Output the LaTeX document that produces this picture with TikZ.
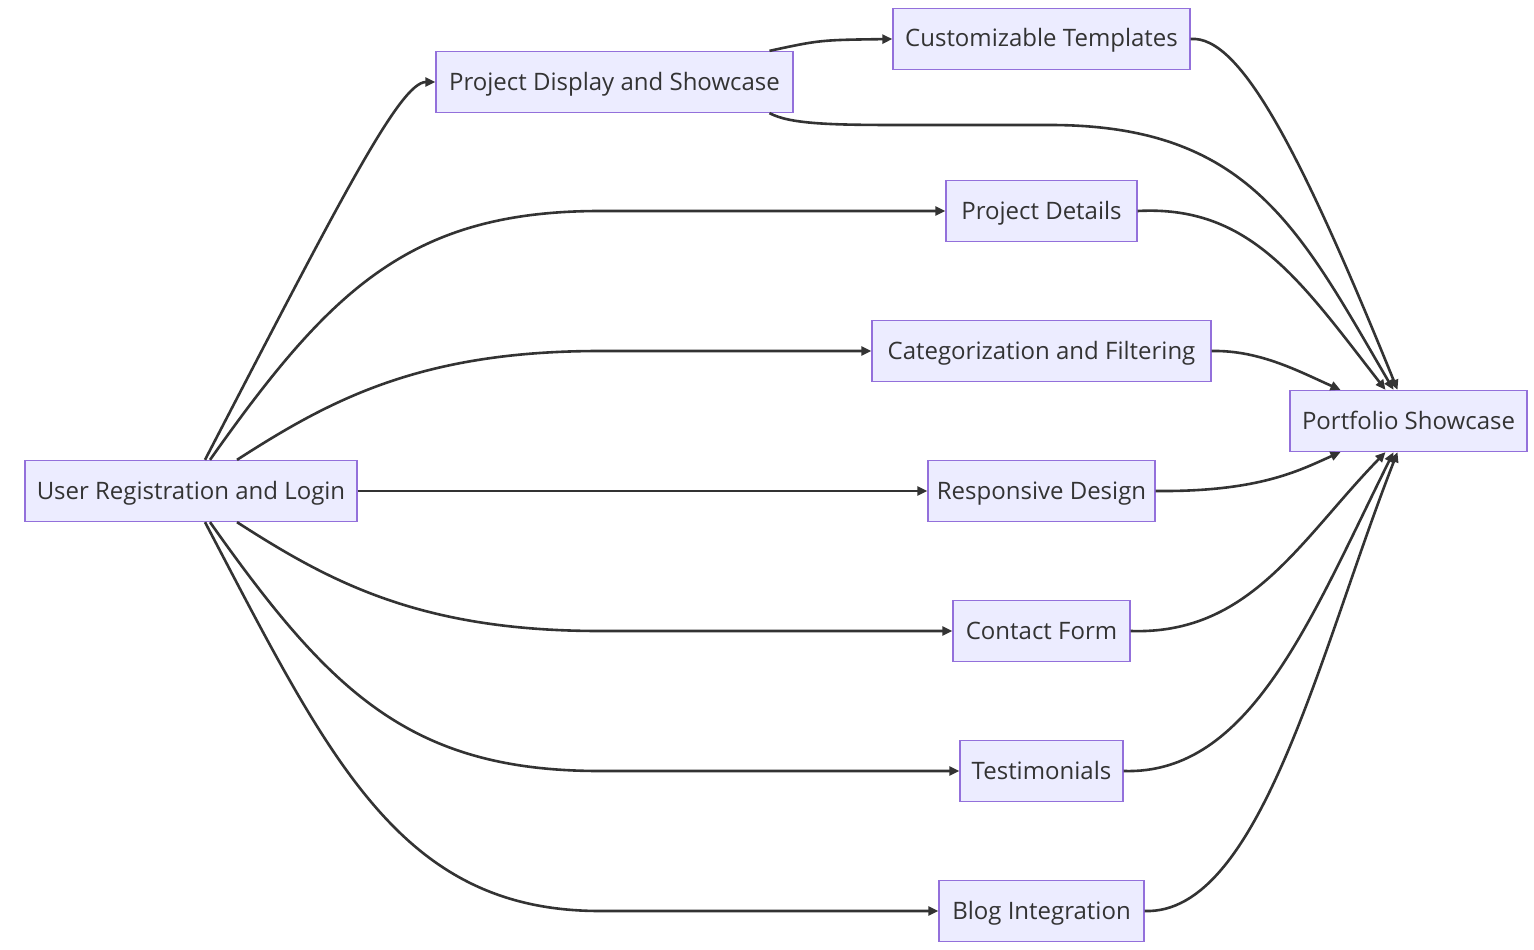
\documentclass[tikz,border=0pt]{standalone}
\usepackage{fontspec}
\setmainfont{Open Sans}
\usepackage{xcolor}
\usepackage{tikz}
\usetikzlibrary{arrows.meta}

\definecolor{boxfill}{HTML}{ECECFF}
\definecolor{boxline}{HTML}{9370DB}
\definecolor{inkgray}{HTML}{333333}

\begin{document}
\begin{tikzpicture}[
    x=1pt, y=-1pt,
    every node/.style={align=center},
    box/.style={
        rectangle,
        draw=boxline,
        fill=boxfill,
        line width=1.3pt,
        text=inkgray,
        font=\fontsize{24}{28}\selectfont,
        text height=18pt,
        text depth=2pt,
        minimum height=61pt,
        inner sep=0pt
    },
    link/.style={
        draw=inkgray,
        line width=2.6pt,
        -{Triangle[length=10pt,width=9pt]}
    }
]
\useasboundingbox (0,0) rectangle (1534,950);

\node[box, minimum width=332pt] (login) at (191,491) {User Registration and Login};
\node[box, minimum width=357pt] (display) at (614.5,82) {Project Display and Showcase};
\node[box, minimum width=297pt] (templates) at (1041.5,39) {Customizable Templates};
\node[box, minimum width=191pt] (details) at (1041.5,211) {Project Details};
\node[box, minimum width=339pt] (filtering) at (1041.5,351) {Categorization and Filtering};
\node[box, minimum width=227pt] (responsive) at (1041.5,491) {Responsive Design};
\node[box, minimum width=177pt] (contact) at (1041.5,631) {Contact Form};
\node[box, minimum width=163pt] (testimonials) at (1041.5,771) {Testimonials};
\node[box, minimum width=205pt] (blog) at (1041.5,911) {Blog Integration};
\node[box, minimum width=237pt] (portfolio) at (1408.5,421) {Portfolio Showcase};

% from login
\draw[link] ([xshift=14pt]login.north) .. controls (340,200) and (400,82) .. (display.west);
\draw[link] ([xshift=19pt]login.north) .. controls (330,290) and (410,211) .. (600,211) -- (details.west);
\draw[link] ([xshift=46pt]login.north) .. controls (330,400) and (420,351) .. (600,351) -- (filtering.west);
\draw[link] (login.east) -- (responsive.west);
\draw[link] ([xshift=46pt]login.south) .. controls (330,582) and (420,631) .. (600,631) -- (contact.west);
\draw[link] ([xshift=19pt]login.south) .. controls (330,692) and (410,771) .. (600,771) -- (testimonials.west);
\draw[link] ([xshift=14pt]login.south) .. controls (330,760) and (400,911) .. (600,911) -- (blog.west);

% from display
\draw[link] ([xshift=155pt]display.north) .. controls (820,40) .. (templates.west);
\draw[link] ([xshift=155pt]display.south) .. controls (790,124) and (830,125) .. (900,125)
    -- (1050,125) .. controls (1250,125) and (1300,230) .. ([xshift=-15pt]portfolio.north);

% into portfolio
\draw[link] (templates.east) .. controls (1240,35) and (1300,150) .. ([xshift=-11pt]portfolio.north);
\draw[link] (details.east) .. controls (1250,205) and (1300,280) .. ([xshift=-23pt]portfolio.north);
\draw[link] (filtering.east) .. controls (1260,350) and (1300,372) .. ([xshift=-68pt]portfolio.north);
\draw[link] (responsive.east) .. controls (1260,492) and (1300,470) .. ([xshift=-68pt]portfolio.south);
\draw[link] (contact.east) .. controls (1250,635) and (1300,540) .. ([xshift=-23pt]portfolio.south);
\draw[link] (testimonials.east) .. controls (1250,775) and (1310,620) .. ([xshift=-15pt]portfolio.south);
\draw[link] (blog.east) .. controls (1260,915) and (1320,650) .. ([xshift=-11pt]portfolio.south);
\end{tikzpicture}
\end{document}
